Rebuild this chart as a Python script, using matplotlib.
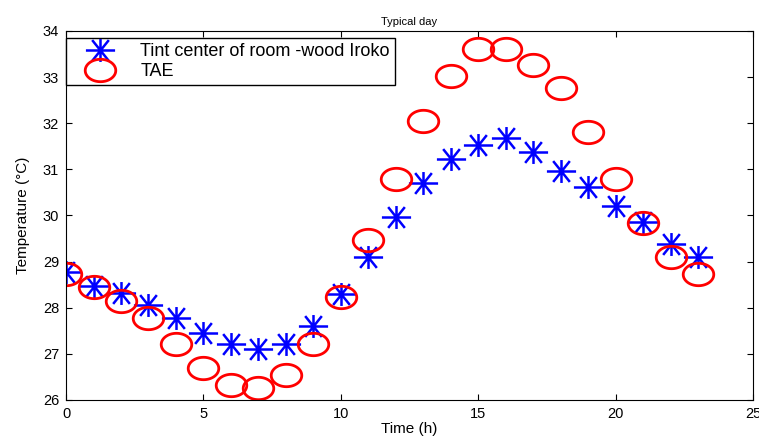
import matplotlib
matplotlib.use("Agg")
import matplotlib.pyplot as plt
import numpy as np
from matplotlib.path import Path

plt.rcParams['font.family'] = ['Liberation Sans', 'DejaVu Sans']

hours = list(range(24))
tint = [28.77, 28.48, 28.32, 28.06, 27.77, 27.45, 27.21, 27.10, 27.22, 27.60,
        28.30, 29.10, 29.97, 30.70, 31.22, 31.53, 31.68, 31.38, 30.97, 30.62,
        30.20, 29.86, 29.38, 29.10]
tae = [28.73, 28.45, 28.14, 27.78, 27.21, 26.69, 26.32, 26.26, 26.54, 27.21,
       28.23, 29.47, 30.79, 32.05, 33.02, 33.61, 33.61, 33.26, 32.76, 31.81,
       30.79, 29.84, 29.10, 28.73]
xticks = [0, 5, 10, 15, 20, 25]
yticks = [26, 27, 28, 29, 30, 31, 32, 33, 34]

# MATLAB-like asterisk marker (wide)
ast_verts = [(-14, 0), (14, 0), (0, -11), (0, 11),
             (-8, -10), (8, 10), (-8, 10), (8, -10)]
ast_codes = [Path.MOVETO, Path.LINETO] * 4
asterisk = Path(ast_verts, ast_codes)

# slightly wide ellipse marker
t = np.linspace(0, 2 * np.pi, 65)
ell_verts = np.column_stack([15 * np.cos(t), 11 * np.sin(t)])
ellipse = Path(ell_verts, closed=True)

fig = plt.figure(figsize=(7.59, 4.41), dpi=100)
ax = fig.add_axes([0.087, 0.093, 0.905, 0.837])

ax.plot(hours, tint, linestyle='none', marker=asterisk, markersize=21,
        markerfacecolor='none', markeredgecolor='#0000ff', markeredgewidth=1.8,
        label='Tint center of room -wood Iroko')
ax.plot(hours, tae, linestyle='none', marker=ellipse, markersize=22,
        markerfacecolor='none', markeredgecolor='#ff0000', markeredgewidth=2,
        label='TAE')

ax.set_xlim(0, 25)
ax.set_ylim(26, 34)
ax.set_xticks(xticks)
ax.set_yticks(yticks)
ax.tick_params(direction='in', top=True, right=True, labelsize=10.5, length=4, pad=5)
ax.set_xlabel('Time (h)', fontsize=11, labelpad=1)
ax.set_ylabel('Temperature (°C)', fontsize=11, labelpad=9)
ax.set_title('Typical day', fontsize=8, pad=4)

leg = ax.legend(loc='upper left', bbox_to_anchor=(0.0, 0.981), fontsize=13,
                fancybox=False, framealpha=1, edgecolor='black',
                borderaxespad=0, handlelength=3.2, borderpad=0.28,
                labelspacing=0.17, handletextpad=0.63, numpoints=1)
leg.get_frame().set_linewidth(1.0)

fig.savefig('out.png', dpi=100)
